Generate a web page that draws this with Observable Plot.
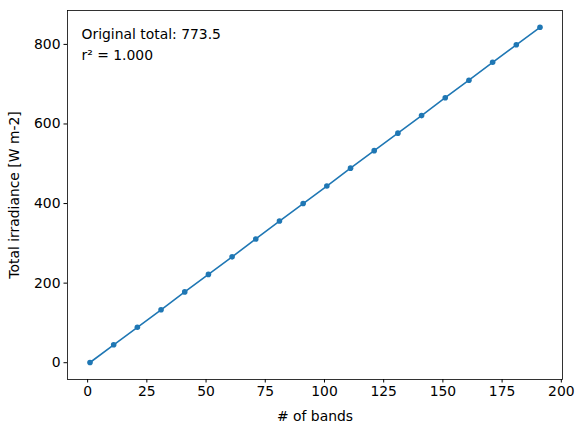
<!DOCTYPE html>
<html>
<head>
<meta charset="utf-8">
<script src="https://cdn.jsdelivr.net/npm/d3@7"></script>
<script src="https://cdn.jsdelivr.net/npm/@observablehq/plot@0.6"></script>
<style>
  html, body { margin: 0; padding: 0; background: #fff; }
  svg { display: block; }
</style>
</head>
<body>
<div id="chart"></div>
<script>
const bands = [1, 11, 21, 31, 41, 51, 61, 71, 81, 91, 101, 111, 121, 131, 141, 151, 161, 171, 181, 191];
const irradiance = [0.5, 45, 89, 133, 178, 222, 266, 311, 356, 400, 444, 489, 533, 577, 621, 666, 710, 755, 799, 843];
const xTicks = [0, 25, 50, 75, 100, 125, 150, 175, 200];
const yTicks = [0, 200, 400, 600, 800];
const annotation = ["Original total: 773.5", "r² = 1.000"];

const data = bands.map((b, i) => ({b, v: irradiance[i]}));
const color = "#1f77b4";

const chart = Plot.plot({
  width: 583,
  height: 432,
  marginLeft: 67,
  marginRight: 21,
  marginTop: 10,
  marginBottom: 53,
  style: {fontFamily: "DejaVu Sans", fontSize: "13.9px", color: "#000", background: "#fff"},
  x: {domain: [-8.5, 200.5], ticks: xTicks, tickSize: 3.5, tickPadding: 3.5, label: "# of bands", labelAnchor: "center", labelOffset: 41, labelArrow: "none"},
  y: {domain: [-42.2, 885.2], ticks: yTicks, tickSize: 3.5, tickPadding: 3.5, label: "Total irradiance [W m-2]", labelAnchor: "center", labelOffset: 58, labelArrow: "none"},
  marks: [
    Plot.frame({stroke: "#000", strokeWidth: 0.8}),
    Plot.line(data, {x: "b", y: "v", stroke: color, strokeWidth: 1.6}),
    Plot.dot(data, {x: "b", y: "v", fill: color, r: 2.8}),
    Plot.text([annotation.join("\n")], {text: d => d, frameAnchor: "top-left", textAnchor: "start", lineAnchor: "top", dx: 14, dy: 14, lineHeight: 1.5, fill: "#000"})
  ]
});
document.getElementById("chart").appendChild(chart);
</script>
</body>
</html>
